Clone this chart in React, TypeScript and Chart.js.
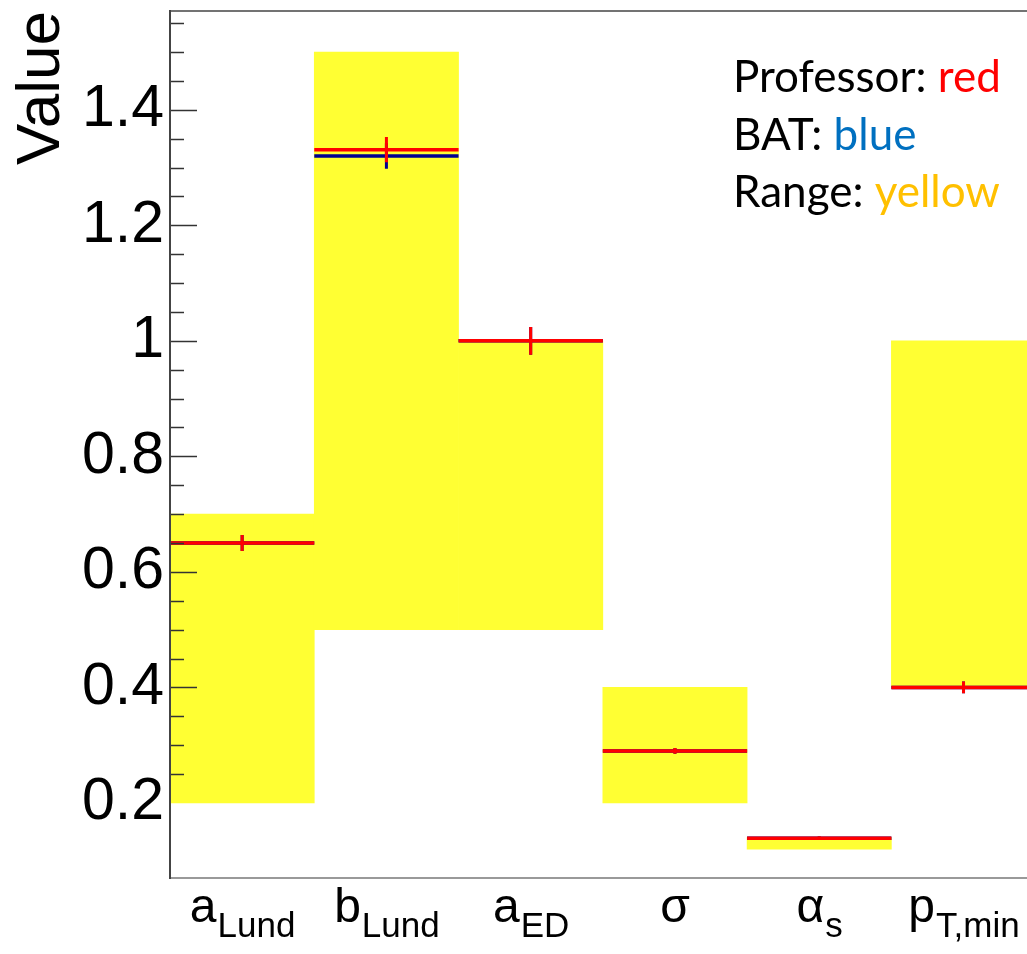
import React, { useEffect, useRef } from 'react';
import { Chart, registerables } from 'chart.js';

Chart.register(...registerables);

// ---- data ----
const paramMain = ['a', 'b', 'a', 'σ', 'α', 'p'];
const paramSub = ['Lund', 'Lund', 'ED', '', 's', 'T,min'];
const rangeLow = [0.2, 0.5, 0.5, 0.2, 0.12, 0.4];
const rangeHigh = [0.7, 1.5, 1.0, 0.4, 0.14, 1.0];
const professorValues = [0.65, 1.331, 1.0, 0.29, 0.139, 0.4];
const professorErrors = [0.014, 0.022, 0.024, 0.005, 0.003, 0.01];
const batValues = [0.65, 1.32, 1.0, 0.29, 0.139, 0.4];
const batErrors = [0.014, 0.022, 0.024, 0.005, 0.003, 0.01];
const yTickLabels = [0.2, 0.4, 0.6, 0.8, 1, 1.2, 1.4];
const yMin = 0.07;
const yMax = 1.571;
const xMax = 5.94;

const FONT = "'Liberation Sans', Arial, Helvetica, sans-serif";
const LEGEND_FONT = "Lato, 'Open Sans', sans-serif";

const legendLines: Array<Array<[string, string]>> = [
  [['Professor: ', '#000000'], ['red', '#ff0000']],
  [['BAT: ', '#000000'], ['blue', '#0070c0']],
  [['Range: ', '#000000'], ['yellow', '#ffc000']],
];

const hLines = (vals: number[]) =>
  vals.flatMap((v, i) => [
    { x: i, y: v },
    { x: i + 1, y: v },
    { x: i + 1, y: null as any },
  ]);
const vBars = (vals: number[], errs: number[]) =>
  vals.flatMap((v, i) => [
    { x: i + 0.5, y: v - errs[i] },
    { x: i + 0.5, y: v + errs[i] },
    { x: i + 0.5, y: null as any },
  ]);

const isMajor = (v: number) => yTickLabels.some((t) => Math.abs(t - v) < 1e-6);

const decorPlugin = {
  id: 'decor',
  afterDatasetsDraw(chart: any) {
    const { ctx, chartArea } = chart;
    const y = chart.scales.y;
    ctx.save();
    ctx.strokeStyle = '#333333';
    ctx.lineWidth = 1.5;
    y.ticks.forEach((t: any) => {
      if (t.value < 0.22) return;
      const py = Math.round(y.getPixelForValue(t.value)) + 0.5;
      const len = isMajor(t.value) ? 27 : 14;
      ctx.beginPath();
      ctx.moveTo(chartArea.left, py);
      ctx.lineTo(chartArea.left + len, py);
      ctx.stroke();
    });
    // top frame line
    ctx.strokeStyle = '#444444';
    ctx.lineWidth = 1.5;
    ctx.beginPath();
    ctx.moveTo(chartArea.left, chartArea.top);
    ctx.lineTo(chartArea.right, chartArea.top);
    ctx.stroke();
    ctx.restore();
  },
  afterDraw(chart: any) {
    const { ctx } = chart;
    const x = chart.scales.x;
    ctx.save();
    ctx.fillStyle = '#000000';
    ctx.textBaseline = 'alphabetic';
    ctx.textAlign = 'left';
    const mainFont = `48px ${FONT}`;
    const subFont = `35px ${FONT}`;
    paramMain.forEach((m, i) => {
      ctx.font = mainFont;
      const wm = ctx.measureText(m).width;
      ctx.font = subFont;
      const ws = paramSub[i] ? ctx.measureText(paramSub[i]).width : 0;
      const cx = x.getPixelForValue(i + 0.5);
      const start = cx - (wm + ws) / 2;
      ctx.font = mainFont;
      ctx.fillText(m, start, 922);
      if (paramSub[i]) {
        ctx.font = subFont;
        ctx.fillText(paramSub[i], start + wm + 1, 937);
      }
    });
    // legend text
    ctx.font = `44px ${LEGEND_FONT}`;
    const baselines = [92, 149.5, 207];
    legendLines.forEach((parts, li) => {
      let px = 733;
      parts.forEach(([txt, col]) => {
        ctx.fillStyle = col;
        ctx.fillText(txt, px, baselines[li]);
        px += ctx.measureText(txt).width;
      });
    });
    ctx.restore();
  },
};

export default function App() {
  const ref = useRef<HTMLCanvasElement | null>(null);
  useEffect(() => {
    if (!ref.current) return;
    const chart = new Chart(ref.current, {
      type: 'bar',
      data: {
        datasets: [
          {
            type: 'line',
            label: 'Professor error',
            data: vBars(professorValues, professorErrors),
            borderColor: '#ff0000',
            borderWidth: 3,
            pointRadius: 0,
            spanGaps: false,
            order: 0,
          } as any,
          {
            type: 'line',
            label: 'Professor',
            data: hLines(professorValues),
            borderColor: '#ff0000',
            borderWidth: 3.5,
            pointRadius: 0,
            spanGaps: false,
            order: 1,
          } as any,
          {
            type: 'line',
            label: 'BAT error',
            data: vBars(batValues, batErrors),
            borderColor: '#000090',
            borderWidth: 3,
            pointRadius: 0,
            spanGaps: false,
            order: 2,
          } as any,
          {
            type: 'line',
            label: 'BAT',
            data: hLines(batValues),
            borderColor: '#000090',
            borderWidth: 3.5,
            pointRadius: 0,
            spanGaps: false,
            order: 3,
          } as any,
          {
            type: 'bar',
            label: 'Range',
            data: rangeLow.map((lo, i) => ({ x: i + 0.5, y: [lo, rangeHigh[i]] })),
            backgroundColor: '#ffff33',
            borderWidth: 0,
            barPercentage: 1,
            categoryPercentage: 1,
            order: 4,
          } as any,
        ],
      },
      options: {
        responsive: false,
        animation: false,
        devicePixelRatio: 1,
        events: [],
        layout: { padding: { top: 11, left: 0, right: 0, bottom: 0 } },
        plugins: {
          legend: { display: false },
          tooltip: { enabled: false },
        },
        scales: {
          x: {
            type: 'linear',
            min: 0,
            max: xMax,
            offset: false,
            ticks: { display: false, stepSize: 1, includeBounds: false },
            grid: { display: false, drawTicks: false },
            border: { display: true, color: '#999999', width: 2, z: 1 },
            afterFit: (s: any) => {
              s.height = 76;
              s.paddingLeft = 0;
              s.paddingRight = 0;
            },
          },
          y: {
            type: 'linear',
            min: yMin,
            max: yMax,
            beginAtZero: false,
            ticks: {
              stepSize: 0.05,
              includeBounds: false,
              autoSkip: false,
              padding: 6,
              color: '#000000',
              font: { family: FONT, size: 59 },
              callback: (v: any) => {
                const m = yTickLabels.find((t) => Math.abs(t - Number(v)) < 1e-6);
                return m === undefined ? '' : String(m);
              },
            },
            grid: { display: false, drawTicks: false },
            border: { display: true, color: '#444444', width: 2, z: 1 },
            title: {
              display: true,
              text: 'Value',
              align: 'end',
              color: '#000000',
              font: { family: FONT, size: 62 },
              padding: { top: 5, bottom: 0 },
            },
            afterFit: (s: any) => {
              s.width = 170;
              s.paddingTop = 0;
              s.paddingBottom = 0;
            },
          },
        },
      } as any,
      plugins: [decorPlugin],
    });
    return () => chart.destroy();
  }, []);
  return (
    <div style={{ position: 'absolute', left: 0, top: 0, width: 1027, height: 954, background: '#fff' }}>
      <canvas ref={ref} width={1027} height={954} style={{ display: 'block' }} />
    </div>
  );
}
